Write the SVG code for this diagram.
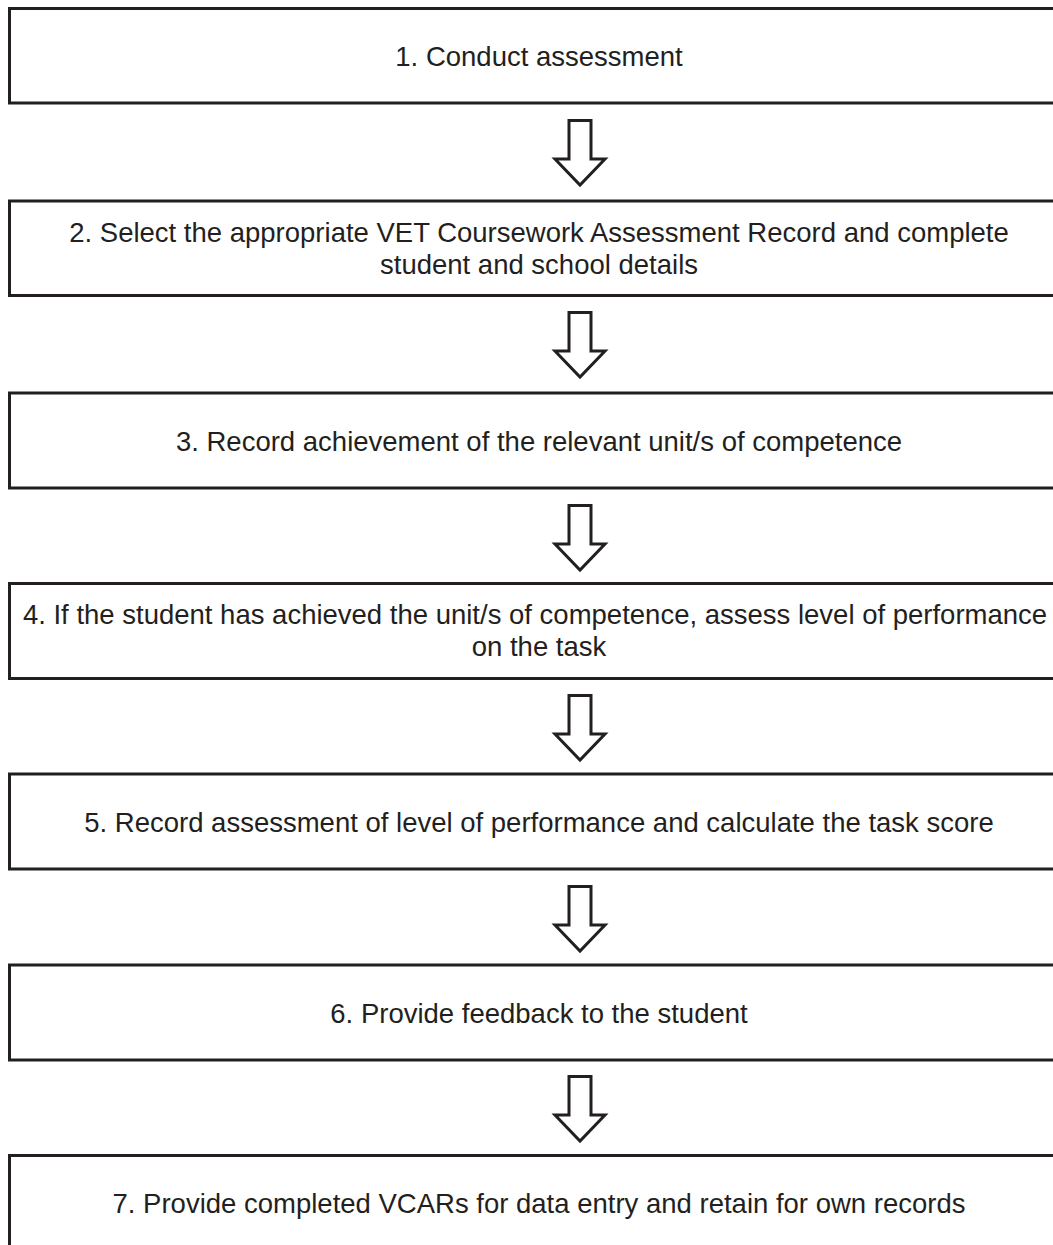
<svg xmlns="http://www.w3.org/2000/svg" width="1053" height="1245" viewBox="0 0 1053 1245">
<style>
.box{fill:#ffffff;stroke:#231f20;stroke-width:3}
.lbl{font-family:"Liberation Sans",Arial,sans-serif;font-size:27.5px;fill:#231f20;text-anchor:middle}
.arr{fill:#ffffff;stroke:#231f20;stroke-width:3;stroke-linejoin:miter}
</style>
<defs>
<path id="bigArrow" d="M -11,1.5 L 11,1.5 L 11,40 L 25,40 L 0,66 L -25,40 L -11,40 Z"/>
</defs>
<rect width="1053" height="1245" fill="#ffffff"/>
<g id="node1"><rect class="box" x="9.5" y="8.5" width="1060" height="94.5"/><text class="lbl" x="539" y="66">1. Conduct assessment</text></g>
<g id="node2"><rect class="box" x="9.5" y="201" width="1060" height="94.5"/><text class="lbl" x="539" y="242">2. Select the appropriate VET Coursework Assessment Record and complete</text><text class="lbl" x="539" y="274">student and school details</text></g>
<g id="node3"><rect class="box" x="9.5" y="393" width="1060" height="95"/><text class="lbl" x="539" y="450.5">3. Record achievement of the relevant unit/s of competence</text></g>
<g id="node4"><rect class="box" x="9.5" y="583.5" width="1060" height="95"/><text class="lbl" x="535" y="624">4. If the student has achieved the unit/s of competence, assess level of performance</text><text class="lbl" x="539" y="656">on the task</text></g>
<g id="node5"><rect class="box" x="9.5" y="774" width="1060" height="95"/><text class="lbl" x="539" y="831.5">5. Record assessment of level of performance and calculate the task score</text></g>
<g id="node6"><rect class="box" x="9.5" y="965" width="1060" height="95"/><text class="lbl" x="539" y="1022.5">6. Provide feedback to the student</text></g>
<g id="node7"><rect class="box" x="9.5" y="1155.5" width="1060" height="120"/><text class="lbl" x="539" y="1213">7. Provide completed VCARs for data entry and retain for own records</text></g>
<g id="connectors">
<use href="#bigArrow" class="arr" x="580" y="119"/>
<use href="#bigArrow" class="arr" x="580" y="311"/>
<use href="#bigArrow" class="arr" x="580" y="504"/>
<use href="#bigArrow" class="arr" x="580" y="694"/>
<use href="#bigArrow" class="arr" x="580" y="885"/>
<use href="#bigArrow" class="arr" x="580" y="1075"/>
</g>
</svg>
